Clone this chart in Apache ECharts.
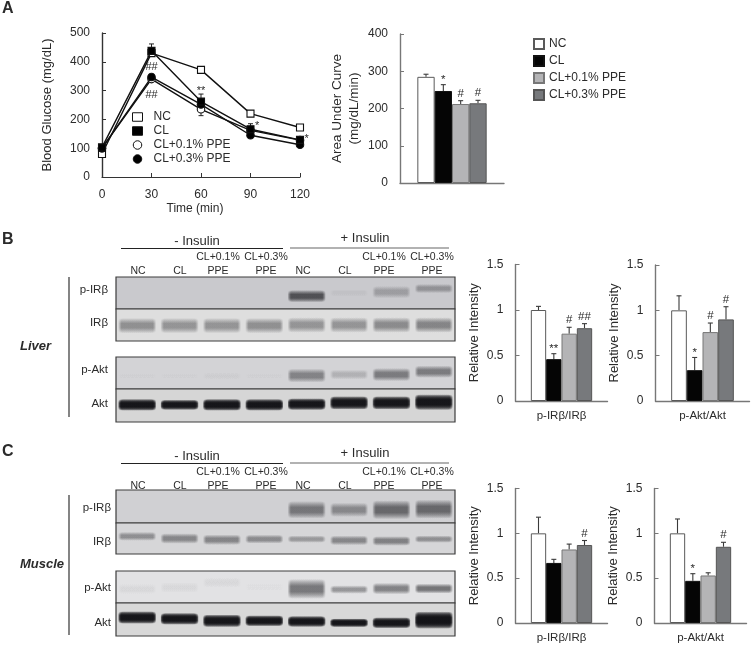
<!DOCTYPE html>
<html><head><meta charset="utf-8">
<style>html,body{margin:0;padding:0;background:#fff}#c{width:752px;height:645px}</style>
<script src="https://cdn.jsdelivr.net/npm/echarts@6/dist/echarts.min.js"></script>
</head><body><div id="c"></div>
<script>
// ---------- data ----------
const groups = ['NC', 'CL', 'CL+0.1% PPE', 'CL+0.3% PPE'];
const timePoints = [0, 30, 60, 90, 120];
const glucoseNC = [80, 430, 372, 220, 172];
const glucoseCL = [103, 438, 262, 166, 129];
const glucoseP1 = [100, 340, 235, 162, 128];
const glucoseP3 = [100, 347, 252, 145, 112];
const glucoseErr = [[30, 438, 462], [60, 262, 288], [60, 235, 213], [90, 166, 185], [120, 129, 140]];
const glucoseMarks = [[30, 382, '##'], [30, 284, '##'], [60, 298, '**'], [94, 178, '*'], [124, 132, '*']];

const aucValues = [285, 247, 212, 214];
const aucTops = [292, 264, 221, 222];
const aucMarks = ['', '*', '#', '#'];
const liverIRValues = [1, 0.46, 0.74, 0.8];
const liverIRTops = [1.04, 0.52, 0.81, 0.85];
const liverIRMarks = ['', '**', '#', '##'];
const liverAktValues = [1, 0.34, 0.76, 0.9];
const liverAktTops = [1.16, 0.48, 0.86, 1.04];
const liverAktMarks = ['', '*', '#', '#'];
const muscleIRValues = [1, 0.67, 0.82, 0.87];
const muscleIRTops = [1.18, 0.71, 0.88, 0.92];
const muscleIRMarks = ['', '', '', '#'];
const muscleAktValues = [1, 0.47, 0.53, 0.85];
const muscleAktTops = [1.16, 0.55, 0.56, 0.9];
const muscleAktMarks = ['', '*', '', '#'];

// blot bands, lane by lane (8 lanes): darkness, vertical position in the strip, thickness in the strip
const liverPIRDark = [0, 0, 0, 0, 0.66, 0.04, 0.24, 0.3];
const liverPIRPos = [.5, .5, .5, .5, .6, .5, .47, .36];
const liverPIRThick = [.2, .2, .2, .2, .16, .1, .16, .12];
const liverIRDark = [.38, .36, .36, .38, .36, .36, .4, .44];
const liverIRPos = [.52, .52, .52, .52, .5, .5, .5, .5];
const liverIRThick = [.2, .2, .2, .2, .2, .2, .2, .2];
const liverPAktDark = [0.015, 0.02, 0.03, 0.015, 0.42, 0.18, 0.46, 0.46];
const liverPAktPos = [.6, .6, .6, .6, .58, .55, .55, .46];
const liverPAktThick = [.1, .1, .1, .1, .18, .13, .17, .16];
const liverAktDark = [.98, .98, .98, .98, .98, .98, .98, .98];
const liverAktPos = [.48, .48, .48, .48, .46, .42, .42, .4];
const liverAktThick = [.15, .13, .15, .15, .15, .17, .17, .2];

const musclePIRDark = [0, 0, 0, 0, .48, .38, .55, .55];
const musclePIRPos = [.5, .5, .5, .5, .6, .6, .6, .58];
const musclePIRThick = [.1, .1, .1, .1, .22, .18, .24, .24];
const muscleIRDark = [.36, .4, .42, .38, .32, .4, .44, .36];
const muscleIRPos = [.43, .5, .54, .52, .52, .56, .58, .52];
const muscleIRThick = [.12, .14, .14, .12, .1, .13, .13, .1];
const musclePAktDark = [.04, .04, .05, .015, .5, .36, .46, .52];
const musclePAktPos = [.56, .52, .36, .5, .56, .58, .55, .55];
const musclePAktThick = [.14, .14, .14, .14, .26, .11, .15, .13];
const muscleAktDark = [.98, .98, .98, .98, .98, .98, .98, .99];
const muscleAktPos = [.44, .48, .54, .54, .56, .6, .6, .52];
const muscleAktThick = [.16, .15, .16, .14, .14, .11, .14, .22];

// ---------- helpers ----------
const FONT = '"Liberation Sans", Arial, sans-serif';
const INK = '#2b2b2b';
const barFill = ['#ffffff', '#050505', '#b4b4b6', '#77797c'];
const barEdge = ['#5a5a5a', '#111111', '#777777', '#555555'];
const slots = ['', ...groups, ''];
const grids = [], xAxes = [], yAxes = [], series = [];

function addGrid(rect, xAxis, yAxis, extra) {
  const i = grids.length;
  grids.push(Object.assign({ containLabel: false }, rect, extra || {}));
  xAxes.push(Object.assign({ gridIndex: i }, xAxis));
  yAxes.push(Object.assign({ gridIndex: i }, yAxis));
  return i;
}
function valueAxis(max, interval, color, name, nameGap, nameSize) {
  return {
    type: 'value', min: 0, max, interval, splitLine: { show: false },
    axisLine: { show: true, lineStyle: { color, width: 1.4 } },
    axisTick: { show: true, inside: true, length: 4, lineStyle: { color, width: 1 } },
    axisLabel: { color: INK, fontFamily: FONT, fontSize: 12, margin: 12, verticalAlignMinLabel: 'middle', verticalAlignMaxLabel: 'middle' },
    name, nameLocation: 'middle', nameGap, nameRotate: 90,
    nameTextStyle: { color: INK, fontFamily: FONT, fontSize: nameSize || 13, lineHeight: 17 }
  };
}
function addBars(rect, values, tops, marks, max, interval, tag, title, xName) {
  const i = addGrid(rect, {
    type: 'category', data: slots, boundaryGap: true,
    axisLine: { show: true, onZero: false, lineStyle: { color: '#777', width: 1.4 } },
    axisTick: { show: false }, axisLabel: { show: false },
    name: xName || '', nameLocation: 'middle', nameGap: 9,
    nameTextStyle: { color: INK, fontFamily: FONT, fontSize: 11.5 }
  }, valueAxis(max, interval, '#777', title.text, title.gap, title.size));
  groups.forEach((g, k) => {
    const d = slots.map(() => null); d[k + 1] = values[k];
    series.push({
      type: 'bar', name: tag + ':' + g, xAxisIndex: i, yAxisIndex: i, data: d,
      barWidth: '100%', barGap: '-100%', silent: true, z: 3,
      itemStyle: { color: barFill[k], borderColor: barEdge[k], borderWidth: 1 }
    });
  });
  series.push({
    type: 'custom', xAxisIndex: i, yAxisIndex: i, silent: true, z: 2,
    data: values.map((v, k) => [k + 1, v, tops[k]]),
    encode: { x: 0, y: 2 },
    renderItem(params, api) {
      const base = api.coord([api.value(0), api.value(1)]);
      const top = api.coord([api.value(0), api.value(2)]);
      const st = { stroke: '#3a3a3a', lineWidth: 1.1 };
      const mark = marks[params.dataIndex];
      const children = [
        { type: 'line', shape: { x1: base[0], y1: base[1], x2: top[0], y2: top[1] }, style: st },
        { type: 'line', shape: { x1: top[0] - 2.5, y1: top[1], x2: top[0] + 2.5, y2: top[1] }, style: st }
      ];
      if (mark) children.push({
        type: 'text', style: {
          x: top[0], y: top[1] - (mark[0] === '*' ? -1 : 1), text: mark, align: 'center', verticalAlign: 'bottom',
          fill: INK, font: '11.5px ' + FONT
        }
      });
      return { type: 'group', children };
    }
  });
  return i;
}
function addStrip(rect, bg, dark, pos, thick) {
  const i = addGrid(rect,
    { type: 'value', min: 0, max: 8, show: false },
    { type: 'value', min: 0, max: 1, inverse: true, show: false },
    { show: true, backgroundColor: bg, borderColor: '#3c3c3c', borderWidth: 1.2 });
  series.push({
    type: 'custom', xAxisIndex: i, yAxisIndex: i, silent: true, z: 2,
    data: dark.map((a, k) => [k + 0.5, pos[k], thick[k], a]),
    encode: { x: 0, y: 1 },
    renderItem(params, api) {
      const a = api.value(3);
      if (!a) return null;
      const c = api.coord([api.value(0), api.value(1)]);
      const s = api.size([0.88, api.value(2)]);
      const r = params.coordSys;
      const clip = { type: 'rect', shape: { x: r.x, y: r.y, width: r.width, height: r.height } };
      const layers = 4;
      const layerAlpha = 1 - Math.pow(1 - a, 1 / layers);
      const solid = `rgba(18,18,22,${layerAlpha})`, clear = 'rgba(18,18,22,0)';
      const fill = {
        type: 'linear', x: 0, y: 0, x2: 0, y2: 1,
        colorStops: [{ offset: 0, color: clear }, { offset: 0.36, color: solid }, { offset: 0.64, color: solid }, { offset: 1, color: clear }]
      };
      const h = s[1] * 2.4;
      const children = [];
      for (let n = 0; n < layers; n++) {
        const w = s[0] * (1 - n * 0.045);
        children.push({
          type: 'rect', shape: { x: c[0] - w / 2, y: c[1] - h / 2, width: w, height: h, r: 3 },
          style: { fill }, clipPath: clip
        });
      }
      return { type: 'group', children };
    }
  });
}

// ---------- panel A: curve ----------
const curve = addGrid({ left: 102, top: 33, width: 198, height: 144 },
  {
    type: 'value', min: 0, max: 120, interval: 30, splitLine: { show: false },
    axisLine: { show: true, lineStyle: { color: '#333', width: 1.2 } },
    axisTick: { show: true, inside: true, length: 4, lineStyle: { color: '#333' } },
    axisLabel: { color: INK, fontFamily: FONT, fontSize: 12, margin: 12 },
    name: 'Time (min)', nameLocation: 'middle', nameGap: 26,
    nameTextStyle: { color: INK, fontFamily: FONT, fontSize: 12, padding: [0, 12, 0, 0] }
  },
  valueAxis(500, 100, '#333', 'Blood Glucose (mg/dL)', 46, 13));
const lineDefs = [
  [groups[0], glucoseNC, 'rect', '#fff', 2],
  [groups[1], glucoseCL, 'rect', '#000', 6],
  [groups[2], glucoseP1, 'circle', '#fff', 3],
  [groups[3], glucoseP3, 'circle', '#000', 4]
];
lineDefs.forEach(([name, vals, sym, fill, z]) => series.push({
  type: 'line', name, xAxisIndex: curve, yAxisIndex: curve, z, silent: true,
  data: timePoints.map((t, k) => [t, vals[k]]),
  symbol: sym, symbolSize: sym === 'rect' ? 7 : 7.5, showAllSymbol: true,
  lineStyle: { color: '#111', width: 1.4 },
  itemStyle: { color: fill, borderColor: '#111', borderWidth: 1.1, opacity: 1 }
}));
series.push({
  type: 'custom', xAxisIndex: curve, yAxisIndex: curve, silent: true, z: 1,
  data: glucoseErr, encode: { x: 0, y: 2 },
  renderItem(params, api) {
    const a = api.coord([api.value(0), api.value(1)]), b = api.coord([api.value(0), api.value(2)]);
    const st = { stroke: '#222', lineWidth: 1 };
    return { type: 'group', children: [
      { type: 'line', shape: { x1: a[0], y1: a[1], x2: b[0], y2: b[1] }, style: st },
      { type: 'line', shape: { x1: b[0] - 2.5, y1: b[1], x2: b[0] + 2.5, y2: b[1] }, style: st }
    ] };
  }
});
series.push({
  type: 'custom', xAxisIndex: curve, yAxisIndex: curve, silent: true, z: 7,
  data: glucoseMarks.map(m => [m[0], m[1]]), encode: { x: 0, y: 1 }, clip: false,
  renderItem(params, api) {
    const c = api.coord([api.value(0), api.value(1)]);
    return { type: 'text', style: { x: c[0], y: c[1], text: glucoseMarks[params.dataIndex][2], align: 'center', verticalAlign: 'middle', fill: INK, font: '11px ' + FONT } };
  }
});

// ---------- bars ----------
addBars({ left: 400, top: 34, width: 104, height: 149 }, aucValues, aucTops, aucMarks, 400, 100, 'auc',
  { text: 'Area Under Curve\n(mg/dL/min)', gap: 37, size: 13.5 });
const ri = g => ({ text: 'Relative Intensity', gap: g, size: 13 });
addBars({ left: 515.5, top: 264.5, width: 92, height: 136.5 }, liverIRValues, liverIRTops, liverIRMarks, 1.5, 0.5, 'lir', ri(24), 'p-IRβ/IRβ');
addBars({ left: 655.5, top: 265, width: 94, height: 136 }, liverAktValues, liverAktTops, liverAktMarks, 1.5, 0.5, 'lak', ri(23), 'p-Akt/Akt');
addBars({ left: 515.5, top: 488.5, width: 92, height: 136.5 }, muscleIRValues, muscleIRTops, muscleIRMarks, 1.5, 0.5, 'mir', ri(24), 'p-IRβ/IRβ');
addBars({ left: 654.5, top: 488.5, width: 92, height: 136.5 }, muscleAktValues, muscleAktTops, muscleAktMarks, 1.5, 0.5, 'mak', ri(23), 'p-Akt/Akt');

// ---------- blots ----------
const L = 116, W = 339;
addStrip({ left: L, top: 277, width: W, height: 32 }, '#c9c9cd', liverPIRDark, liverPIRPos, liverPIRThick);
addStrip({ left: L, top: 309, width: W, height: 32 }, '#dedede', liverIRDark, liverIRPos, liverIRThick);
addStrip({ left: L, top: 357, width: W, height: 32 }, '#d3d3d6', liverPAktDark, liverPAktPos, liverPAktThick);
addStrip({ left: L, top: 389, width: W, height: 33 }, '#d6d6d6', liverAktDark, liverAktPos, liverAktThick);
addStrip({ left: L, top: 490, width: W, height: 33 }, '#d0d0d3', musclePIRDark, musclePIRPos, musclePIRThick);
addStrip({ left: L, top: 523, width: W, height: 31 }, '#d6d6d8', muscleIRDark, muscleIRPos, muscleIRThick);
addStrip({ left: L, top: 571, width: W, height: 32 }, '#e2e2e4', musclePAktDark, musclePAktPos, musclePAktThick);
addStrip({ left: L, top: 603, width: W, height: 33 }, '#d8d8d8', muscleAktDark, muscleAktPos, muscleAktThick);

// ---------- annotation text and rules ----------
const txt = (text, x, y, size, align, weight, style) => ({
  type: 'text', silent: true, style: {
    text, x, y, align: align || 'center', verticalAlign: 'middle', fill: INK,
    font: `${style || 'normal'} ${weight || 'normal'} ${size}px ${FONT}`
  }
});
const rule = (x1, y1, x2, y2, stroke, w) => ({ type: 'line', silent: true, shape: { x1, y1, x2, y2 }, style: { stroke, lineWidth: w } });
const headerXs = [138, 180, 218, 266, 303, 345, 384, 432];
function header(y0) {
  const out = [];
  ['NC', 'CL', 'PPE', 'PPE', 'NC', 'CL', 'PPE', 'PPE'].forEach((t, k) => out.push(txt(t, headerXs[k], y0 + 14, 10.5)));
  [[2, 'CL+0.1%'], [3, 'CL+0.3%'], [6, 'CL+0.1%'], [7, 'CL+0.3%']].forEach(([k, t]) => out.push(txt(t, headerXs[k], y0, 10.5)));
  return out;
}
const elements = [
  txt('A', 2, 9, 16, 'left', 'bold'), txt('B', 2, 240, 16, 'left', 'bold'), txt('C', 2, 452, 16, 'left', 'bold'),
  txt('- Insulin', 197, 241, 13), txt('+ Insulin', 365, 238, 13),
  txt('- Insulin', 197, 456, 13), txt('+ Insulin', 365, 453, 13),
  rule(121, 248.5, 283, 248.5, '#222', 1), rule(290, 248, 449, 248, '#666', 1.2),
  rule(121, 463.5, 283, 463.5, '#222', 1), rule(290, 463, 449, 463, '#666', 1.2),
  ...header(257), ...header(472),
  rule(69, 277, 69, 417, '#666', 1.6), rule(69, 495, 69, 635, '#666', 1.6),
  txt('Liver', 20, 346, 13, 'left', 'bold', 'italic'), txt('Muscle', 20, 564, 13, 'left', 'bold', 'italic'),
  txt('p-IRβ', 108, 290, 11.5, 'right'), txt('IRβ', 108, 323, 11.5, 'right'),
  txt('p-Akt', 108, 370, 11.5, 'right'), txt('Akt', 108, 404, 11.5, 'right'),
  txt('p-IRβ', 111, 508, 11.5, 'right'), txt('IRβ', 111, 542, 11.5, 'right'),
  txt('p-Akt', 111, 588, 11.5, 'right'), txt('Akt', 111, 623, 11.5, 'right')
];

const legendText = { color: INK, fontFamily: FONT, fontSize: 12 };
const option = {
  animation: false, backgroundColor: '#fff',
  grid: grids, xAxis: xAxes, yAxis: yAxes, series, graphic: { elements },
  legend: [
    {
      left: 132, top: 111, padding: 0, orient: 'vertical', selectedMode: false, itemWidth: 10, itemHeight: 8.5, itemGap: 2,
      textStyle: Object.assign({ padding: [0, 0, 0, 6] }, legendText), lineStyle: { width: 0, opacity: 0 },
      itemStyle: { borderWidth: 1 },
      data: lineDefs.map(d => ({ name: d[0], icon: d[2] === 'rect' ? 'rect' : 'circle' }))
    },
    {
      left: 533, top: 38, padding: 0, orient: 'vertical', selectedMode: false, itemWidth: 10, itemHeight: 10, itemGap: 5,
      textStyle: legendText, formatter: n => n.split(':')[1],
      data: groups.map(g => ({ name: 'auc:' + g, icon: 'rect' }))
    }
  ]
};
echarts.init(document.getElementById('c'), null, { renderer: 'canvas' }).setOption(option);
</script></body></html>
